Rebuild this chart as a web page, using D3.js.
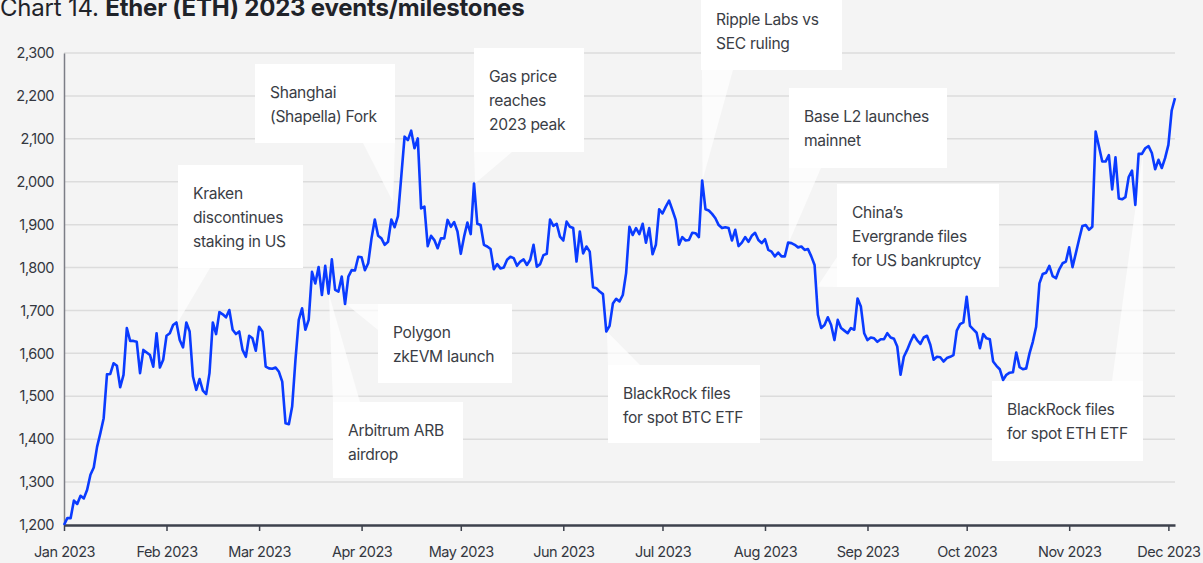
<!DOCTYPE html>
<html>

<head>
    <title>Ether (ETH) 2023 events/milestones</title>
    <script src="https://cdnjs.cloudflare.com/ajax/libs/d3/7.8.5/d3.min.js"></script>
    <style>
        body { margin: 0; background: #f4f4f4; font-family: "Inter", "Noto Sans", sans-serif; }
        #chart svg { display: block; }
    </style>
</head>

<body>
    <div id="chart"></div>

    <script>
        // daily ETH close, starting 1 Jan 2023
        var startDate = "2023-01-01";
        var ethPrice = [
            1200, 1216, 1216, 1257, 1249, 1268, 1262, 1282, 1317, 1334,
            1382, 1414, 1449, 1551, 1552, 1577, 1571, 1521, 1550, 1659,
            1629, 1629, 1627, 1554, 1608, 1602, 1596, 1569, 1647, 1567,
            1585, 1641, 1647, 1666, 1672, 1631, 1614, 1672, 1651, 1546,
            1515, 1540, 1513, 1505, 1554, 1672, 1645, 1696, 1691, 1684,
            1701, 1655, 1645, 1651, 1608, 1592, 1641, 1635, 1606, 1662,
            1651, 1569, 1565, 1564, 1567, 1557, 1534, 1437, 1435, 1476,
            1585, 1678, 1705, 1655, 1678, 1790, 1763, 1801, 1736, 1804,
            1739, 1819, 1748, 1744, 1779, 1715, 1779, 1794, 1793, 1825,
            1824, 1794, 1810, 1868, 1912, 1874, 1868, 1853, 1860, 1912,
            1894, 1920, 2012, 2105, 2097, 2119, 2078, 2101, 1938, 1942,
            1850, 1874, 1864, 1845, 1868, 1868, 1911, 1895, 1906, 1884,
            1832, 1872, 1905, 1878, 1996, 1902, 1899, 1853, 1849, 1843,
            1796, 1808, 1798, 1800, 1818, 1825, 1822, 1804, 1814, 1819,
            1806, 1818, 1853, 1802, 1808, 1829, 1832, 1912, 1897, 1902,
            1872, 1863, 1907, 1895, 1892, 1814, 1884, 1833, 1849, 1837,
            1754, 1752, 1744, 1738, 1651, 1664, 1716, 1727, 1721, 1736,
            1787, 1895, 1876, 1892, 1878, 1902, 1858, 1892, 1831, 1853,
            1936, 1926, 1942, 1956, 1934, 1911, 1853, 1871, 1863, 1864,
            1881, 1880, 1871, 2003, 1936, 1933, 1925, 1915, 1899, 1892,
            1894, 1892, 1863, 1888, 1850, 1858, 1871, 1860, 1874, 1881,
            1864, 1857, 1866, 1841, 1837, 1826, 1835, 1826, 1826, 1858,
            1857, 1853, 1847, 1849, 1841, 1843, 1826, 1806, 1690, 1659,
            1666, 1684, 1666, 1631, 1678, 1659, 1653, 1647, 1659, 1655,
            1728, 1709, 1647, 1631, 1637, 1635, 1627, 1633, 1633, 1647,
            1637, 1634, 1616, 1550, 1592, 1608, 1627, 1643, 1631, 1622,
            1637, 1641, 1620, 1585, 1592, 1591, 1581, 1589, 1592, 1596,
            1653, 1668, 1672, 1732, 1664, 1656, 1648, 1612, 1645, 1635,
            1633, 1581, 1571, 1563, 1538, 1550, 1555, 1556, 1602, 1568,
            1563, 1565, 1600, 1627, 1662, 1763, 1785, 1788, 1804, 1780,
            1775, 1796, 1810, 1814, 1847, 1801, 1833, 1866, 1897, 1899,
            1888, 1895, 2117, 2082, 2047, 2047, 2062, 1982, 2057, 1961,
            1959, 1964, 2011, 2026, 1946, 2065, 2065, 2078, 2083, 2067,
            2029, 2051, 2032, 2055, 2086, 2166, 2195
        ];

        var yTicks = [1200, 1300, 1400, 1500, 1600, 1700, 1800, 1900, 2000, 2100, 2200, 2300];

        // events: label lines, day offset from startDate, price at the callout tip
        var eventLabels = [
            ["Kraken", "discontinues", "staking in US"],
            ["Shanghai", "(Shapella) Fork"],
            ["Gas price", "reaches", "2023 peak"],
            ["Ripple Labs vs", "SEC ruling"],
            ["Base L2 launches", "mainnet"],
            ["China\u2019s", "Evergrande files", "for US bankruptcy"],
            ["Polygon", "zkEVM launch"],
            ["Arbitrum ARB", "airdrop"],
            ["BlackRock files", "for spot BTC ETF"],
            ["BlackRock files", "for spot ETH ETF"]
        ];
        var eventDays = [34.4, 99.5, 124.3, 193.1, 219.2, 227.8, 85.3, 80.1, 164.2, 326.3];
        var eventTipValues = [1672, 1953, 1996, 2003, 1858, 1755, 1715, 1739, 1651, 2068];

        // callout layout (pixels): box, plus the two base corners of the pointer
        var calloutBoxes = [
            { x: 178, y: 165, w: 125, h: 103, base: [[178, 268], [210, 268]] },
            { x: 255, y: 64, w: 140, h: 79, base: [[363, 143], [395, 143]] },
            { x: 474, y: 48, w: 110, h: 104, base: [[474, 152], [512, 152]] },
            { x: 701, y: -9, w: 141, h: 79, base: [[702, 70], [733, 70]] },
            { x: 789, y: 88, w: 158, h: 80, base: [[789, 168], [821, 168]] },
            { x: 837, y: 184, w: 162, h: 103, base: [[837, 257], [837, 287]] },
            { x: 378, y: 304, w: 134, h: 79, base: [[378, 304], [378, 330]] },
            { x: 333, y: 402, w: 130, h: 76, base: [[333, 402], [360, 402]] },
            { x: 608, y: 365, w: 152, h: 78, base: [[608, 365], [640, 365]] },
            { x: 992, y: 381, w: 151, h: 80, base: [[1112, 381], [1143, 381]] }
        ];

        var width = 1203;
        var height = 563;
        var plotLeft = 64, plotRight = 1175, plotTop = 53, plotBottom = 525;

        var parseDay = d3.utcParse("%Y-%m-%d");
        var day0 = parseDay(startDate);

        function dayToDate(n) {
            return new Date(day0.getTime() + n * 86400000);
        }

        var series = ethPrice.map(function (v, i) {
            return { date: dayToDate(i), value: v };
        });

        var svg = d3.select("#chart").append("svg")
            .attr("width", width)
            .attr("height", height);

        svg.append("rect").attr("width", width).attr("height", height).attr("fill", "#f4f4f4");

        var xScale = d3.scaleUtc()
            .domain([day0, dayToDate(336)])
            .range([plotLeft, plotRight]);

        var yScale = d3.scaleLinear()
            .domain([1200, 2300])
            .range([plotBottom, plotTop]);

        // title (sits at the very top edge, as in the source)
        var title = svg.append("text")
            .attr("x", 0)
            .attr("y", 16)
            .style("font-size", "24px")
            .style("letter-spacing", "-0.2px")
            .attr("fill", "#1f2329");
        title.append("tspan").text("Chart 14. ");
        title.append("tspan").style("font-weight", "700").text("Ether (ETH) 2023 events/milestones");

        // gridlines
        svg.append("g")
            .selectAll("line")
            .data(yTicks.slice(1))
            .join("line")
            .attr("x1", plotLeft)
            .attr("x2", plotRight)
            .attr("y1", function (d) { return yScale(d); })
            .attr("y2", function (d) { return yScale(d); })
            .attr("stroke", "#dcdcdc")
            .attr("stroke-width", 1.5);

        // y axis
        var yAxis = svg.append("g")
            .attr("transform", "translate(" + plotLeft + ",0)")
            .call(d3.axisLeft(yScale).tickValues(yTicks).tickFormat(d3.format(",")).tickSize(0).tickPadding(10));
        yAxis.select(".domain").attr("stroke", "#7c7e86").attr("stroke-width", 1.5);
        yAxis.selectAll("text")
            .style("font-size", "14.5px")
            .style("font-family", "Inter, sans-serif")
            .style("letter-spacing", "-0.5px")
            .attr("fill", "#33373f");

        // callouts
        var callouts = svg.append("g");
        for (var i = 0; i < eventLabels.length; i++) {
            var box = calloutBoxes[i];
            var tipX = xScale(dayToDate(eventDays[i]));
            var tipY = yScale(eventTipValues[i]);
            var pts = [box.base[0], box.base[1], [tipX, tipY]];

            callouts.append("path")
                .attr("d", "M" + pts.map(function (p) { return p[0] + "," + p[1]; }).join("L") + "Z")
                .attr("fill", "#ffffff")
                .attr("fill-opacity", 0.7);

            callouts.append("rect")
                .attr("x", box.x)
                .attr("y", box.y)
                .attr("width", box.w)
                .attr("height", box.h)
                .attr("fill", "#ffffff");

            var label = callouts.append("text")
                .style("font-size", "15.6px")
                .style("letter-spacing", "-0.3px")
                .attr("fill", "#3a3d45");
            for (var j = 0; j < eventLabels[i].length; j++) {
                label.append("tspan")
                    .attr("x", box.x + 15)
                    .attr("y", box.y + 29 + j * 24)
                    .attr("dy", "0.35em")
                    .text(eventLabels[i][j]);
            }
        }

        // x axis
        var xAxis = svg.append("g")
            .attr("transform", "translate(0," + plotBottom + ")")
            .call(d3.axisBottom(xScale)
                .ticks(d3.utcMonth.every(1))
                .tickFormat(d3.utcFormat("%b %Y"))
                .tickSize(6)
                .tickSizeOuter(0)
                .tickPadding(16));
        xAxis.select(".domain").attr("stroke", "#3d414c").attr("stroke-width", 2.5);
        xAxis.selectAll(".tick line").attr("stroke", "#3d414c").attr("stroke-width", 1.5);
        xAxis.selectAll("text")
            .style("font-size", "14.5px")
            .style("font-family", "Inter, sans-serif")
            .style("letter-spacing", "-0.5px")
            .attr("fill", "#33373f");

        // price line
        var line = d3.line()
            .x(function (d) { return xScale(d.date); })
            .y(function (d) { return yScale(d.value); });

        svg.append("path")
            .datum(series)
            .attr("d", line)
            .attr("fill", "none")
            .attr("stroke", "#0a3bff")
            .attr("stroke-width", 2.6)
            .attr("stroke-linejoin", "round");
    </script>

</body>

</html>
